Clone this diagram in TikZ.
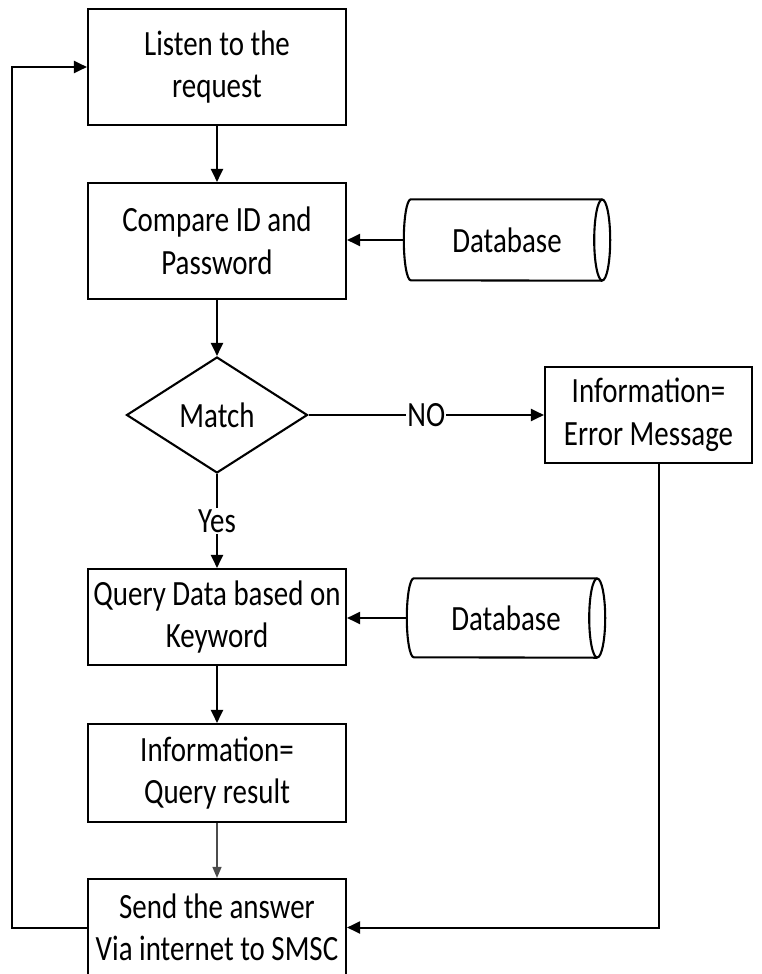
\documentclass[tikz,border=0pt]{standalone}
\usepackage{fontspec}
\setmainfont{Carlito}[FakeStretch=0.815]
\usetikzlibrary{arrows.meta,shapes.geometric}

\begin{document}
\begin{tikzpicture}[x=1pt,y=1pt,
  txt/.style={font=\fontsize{35.5}{42.5}\selectfont},
  flow/.style={txt, draw, line width=2.1pt, align=center, inner sep=0pt},
  procbox/.style={flow, rectangle, minimum width=258pt},
  dbbody/.style={txt, rectangle, inner sep=0pt},
  dbline/.style={line width=2.1pt},
  conn/.style={line width=2pt, -{Triangle[length=13pt,width=12pt]}},
  softconn/.style={line width=1.2pt, draw=black!70, -{Triangle[length=11pt,width=9pt]}},
  tag/.style={txt, fill=white, inner sep=1pt},
  ]
\useasboundingbox (0,0) rectangle (762,-974);

% main column
\node[procbox, minimum height=116pt] (listen) at (217,-67) {Listen to the\\request};
\node[procbox, minimum height=116pt] (compare) at (217,-241) {Compare ID and\\Password};
\node[flow, diamond, aspect=1.5, minimum width=181pt, minimum height=116pt] (match) at (217,-415) {Match};
\node[procbox, minimum height=96pt] (query) at (217,-617) {Query Data based on\\Keyword};
\node[procbox, minimum height=98pt] (result) at (217,-773) {Information=\\Query result};
\node[procbox, minimum height=97pt] (send) at (217,-927.5) {Send the answer\\Via internet to SMSC};

% error branch
\node[flow, rectangle, minimum width=207pt, minimum height=96pt] (error) at (648.5,-415) {Information=\\Error Message};

% databases (horizontal cylinders)
\node[dbbody, minimum width=206pt, minimum height=81pt] (db1) at (507,-240) {Database};
\draw[dbline] ([xshift=-8pt]db1.east) ellipse [x radius=8pt, y radius=40.5pt];
\draw[dbline] ([xshift=-8pt]db1.north east) -- ([xshift=7pt]db1.north west)
  arc[start angle=90, end angle=270, x radius=7pt, y radius=40.5pt]
  -- ([xshift=-8pt]db1.south east);

\node[dbbody, minimum width=198pt, minimum height=79pt] (db2) at (506,-618) {Database};
\draw[dbline] ([xshift=-8pt]db2.east) ellipse [x radius=8pt, y radius=39.5pt];
\draw[dbline] ([xshift=-8pt]db2.north east) -- ([xshift=7pt]db2.north west)
  arc[start angle=90, end angle=270, x radius=7pt, y radius=39.5pt]
  -- ([xshift=-8pt]db2.south east);

% connectors
\coordinate (loopx) at (12,0);
\draw[conn] (listen) -- (compare);
\draw[conn] (db1.west) -- (db1.west -| compare.east);
\draw[conn] (compare) -- (match);
\draw[conn] (match.east) -- node[tag] {NO} (error.west |- match.east);
\draw[conn] (match.south) -- node[tag] {Yes} (query.north);
\draw[conn] (db2.west) -- (db2.west -| query.east);
\draw[conn] (query) -- (result);
\draw[softconn] (result) -- (send);
\draw[conn] (send.west) -- (send.west -| loopx) |- (listen.west);
\draw[conn] ([xshift=10.5pt]error.south) |- (send.east);
\end{tikzpicture}
\end{document}
